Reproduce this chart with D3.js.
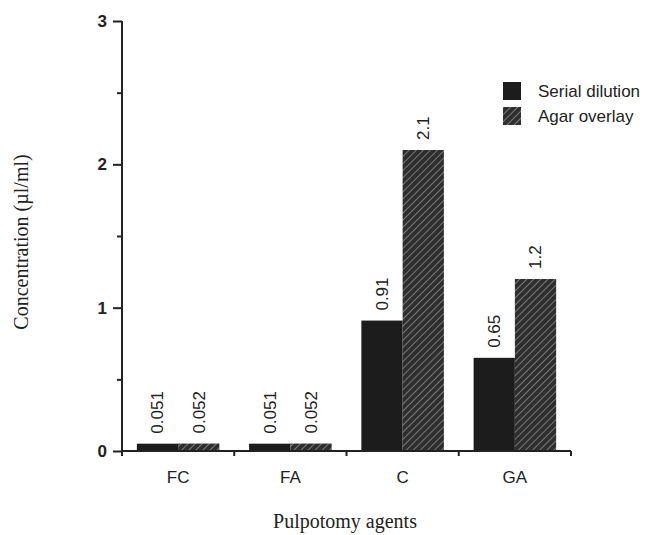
<!DOCTYPE html>
<html>
<head>
<meta charset="utf-8">
<script src="https://cdn.jsdelivr.net/npm/d3@7/dist/d3.min.js"></script>
<style>
  body { margin: 0; background: #fff; }
  svg { display: block; }
  .sans { font-family: "Liberation Sans", Arial, Helvetica, sans-serif; fill: #222; }
  .serif { font-family: "Liberation Serif", "Times New Roman", serif; fill: #222; }
</style>
</head>
<body>
<div id="chart"></div>
<script>
// data
const categories = ['FC', 'FA', 'C', 'GA'];
const series = ['Serial dilution', 'Agar overlay'];
const serialValues = [0.051, 0.051, 0.91, 0.65];
const agarValues = [0.052, 0.052, 2.1, 1.2];
const serialLabels = ['0.051', '0.051', '0.91', '0.65'];
const agarLabels = ['0.052', '0.052', '2.1', '1.2'];
const yTicks = [0, 1, 2, 3];
const yMinorTicks = [0.5, 1.5, 2.5];

const width = 647;
const height = 535;
const ink = '#222';

const svg = d3.select('#chart').append('svg')
  .attr('width', width)
  .attr('height', height);

// hatch for the agar overlay bars
const defs = svg.append('defs');
const pat = defs.append('pattern')
  .attr('id', 'hatch')
  .attr('patternUnits', 'userSpaceOnUse')
  .attr('width', 5)
  .attr('height', 5)
  .attr('patternTransform', 'rotate(45)');
pat.append('rect').attr('width', 5).attr('height', 5).attr('fill', '#2e2e2e');
pat.append('line')
  .attr('x1', 0).attr('y1', 0).attr('x2', 0).attr('y2', 5)
  .attr('stroke', '#8c8c8c').attr('stroke-width', 1.6);

// scales
const x = d3.scaleBand().domain(categories).range([122, 571]).padding(0);
const x1 = d3.scaleBand().domain(series).range([0, x.bandwidth()])
  .paddingInner(0).paddingOuter(0.36);
const y = d3.scaleLinear().domain([0, 3]).range([451, 21]);

const fills = { 'Serial dilution': '#1c1c1c', 'Agar overlay': 'url(#hatch)' };

const rows = categories.map((c, i) => ({
  cat: c,
  bars: [
    { key: series[0], value: serialValues[i], label: serialLabels[i] },
    { key: series[1], value: agarValues[i], label: agarLabels[i] }
  ]
}));

// bars
const groups = svg.append('g').attr('class', 'bars')
  .selectAll('g')
  .data(rows)
  .join('g')
  .attr('transform', d => `translate(${x(d.cat)},0)`);

groups.selectAll('rect')
  .data(d => d.bars)
  .join('rect')
  .attr('x', d => x1(d.key))
  .attr('y', d => y(d.value))
  .attr('width', x1.bandwidth())
  .attr('height', d => y(0) - y(d.value))
  .attr('fill', d => fills[d.key]);

// value labels, rotated
groups.selectAll('text')
  .data(d => d.bars)
  .join('text')
  .attr('class', 'sans')
  .attr('transform', d => `translate(${x1(d.key) + x1.bandwidth() / 2},${y(d.value) - 10}) rotate(-90)`)
  .attr('dy', '0.35em')
  .style('font-size', '17px')
  .text(d => d.label);

// y axis
const yAxis = svg.append('g')
  .attr('class', 'axis axis-y')
  .attr('transform', 'translate(122,0)')
  .call(d3.axisLeft(y).tickValues(yTicks).tickFormat(d3.format('d')).tickSize(9).tickPadding(6));
yAxis.select('.domain').attr('d', `M0,${y(3)}V${y(0)}`).attr('stroke', ink).attr('stroke-width', 2);
yAxis.selectAll('.tick line').attr('stroke', ink).attr('stroke-width', 2);
yAxis.selectAll('.tick text')
  .attr('class', 'sans')
  .style('font-size', '17px')
  .style('font-weight', 'bold')
  .attr('fill', ink);

svg.append('g')
  .attr('transform', 'translate(122,0)')
  .call(d3.axisLeft(y).tickValues(yMinorTicks).tickFormat('').tickSize(5))
  .call(g => g.select('.domain').remove())
  .selectAll('.tick line').attr('stroke', ink).attr('stroke-width', 2);

// x axis
const xAxis = svg.append('g')
  .attr('class', 'axis axis-x')
  .attr('transform', `translate(0,${y(0)})`)
  .call(d3.axisBottom(x).tickSize(0).tickPadding(20));
xAxis.select('.domain').attr('d', `M${x.range()[0]},0H${x.range()[1]}`).attr('stroke', ink).attr('stroke-width', 2);
xAxis.selectAll('.tick text')
  .attr('class', 'sans')
  .style('font-size', '17px')
  .attr('fill', ink);

// separators between the groups
const bounds = categories.map(c => x(c)).concat([x.range()[1]]);
xAxis.selectAll('.sep')
  .data(bounds)
  .join('line')
  .attr('class', 'sep')
  .attr('x1', d => d).attr('x2', d => d)
  .attr('y1', 0).attr('y2', 5)
  .attr('stroke', ink).attr('stroke-width', 2);

// axis titles
svg.append('text')
  .attr('class', 'serif')
  .attr('transform', `translate(28,${(y(0) + y(3)) / 2 + 6}) rotate(-90)`)
  .attr('text-anchor', 'middle')
  .style('font-size', '20px')
  .text('Concentration (µl/ml)');

svg.append('text')
  .attr('class', 'serif')
  .attr('x', 345)
  .attr('y', 528)
  .attr('text-anchor', 'middle')
  .style('font-size', '20px')
  .text('Pulpotomy agents');

// legend
const legend = svg.append('g')
  .attr('transform', 'translate(503,82)');
const items = legend.selectAll('g')
  .data(series)
  .join('g')
  .attr('transform', (d, i) => `translate(0,${i * 25})`);
items.append('rect')
  .attr('width', 18)
  .attr('height', 18)
  .attr('fill', d => fills[d]);
items.append('text')
  .attr('class', 'sans')
  .attr('x', 35)
  .attr('y', 15)
  .style('font-size', '17px')
  .text(d => d);
</script>
</body>
</html>
